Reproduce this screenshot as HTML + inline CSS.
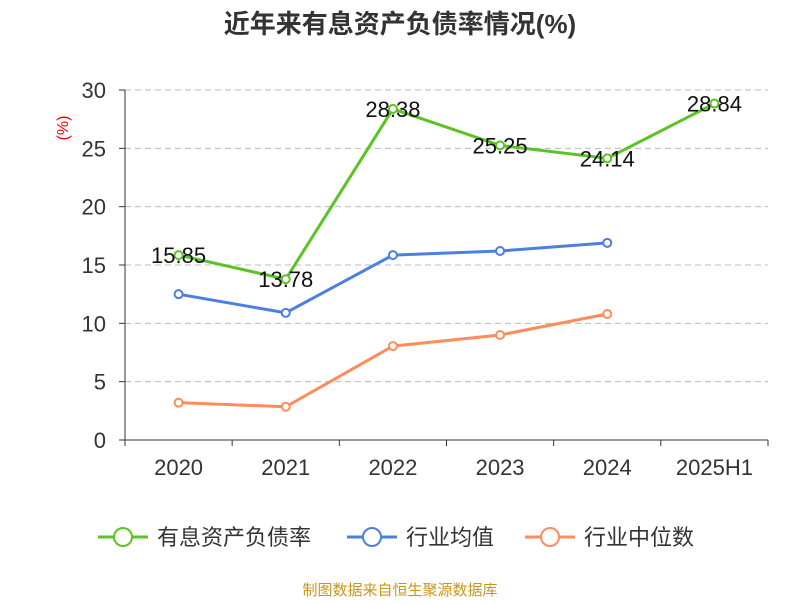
<!DOCTYPE html>
<html><head><meta charset="utf-8"><style>
body{margin:0;background:#fff;width:800px;height:600px;overflow:hidden}
svg{font-family:"Liberation Sans","Noto Sans CJK SC",sans-serif}
</style></head><body>
<svg id="chart" width="800" height="600">
<text x="400" y="33" text-anchor="middle" font-size="26" font-weight="bold" fill="#333">近年来有息资产负债率情况(%)</text>
<text x="68" y="128" transform="rotate(-90 68 128)" text-anchor="middle" font-size="16" fill="#e00">(%)</text>
<g id="grid"></g><g id="axes"></g><g id="series"></g>
<g>
<g><line x1="98" y1="537" x2="148" y2="537" stroke="#5bc424" stroke-width="3"/><circle cx="123" cy="537" r="9" fill="#fff" stroke="#5bc424" stroke-width="2"/><text x="157" y="545" font-size="22" fill="#333">有息资产负债率</text></g>
<g><line x1="347" y1="537" x2="397" y2="537" stroke="#4b7fe0" stroke-width="3"/><circle cx="372" cy="537" r="9" fill="#fff" stroke="#4b7fe0" stroke-width="2"/><text x="406" y="545" font-size="22" fill="#333">行业均值</text></g>
<g><line x1="525" y1="537" x2="575" y2="537" stroke="#ff8c5a" stroke-width="3"/><circle cx="550" cy="537" r="9" fill="#fff" stroke="#ff8c5a" stroke-width="2"/><text x="584" y="545" font-size="22" fill="#333">行业中位数</text></g>
</g>
<text x="400" y="595" text-anchor="middle" font-size="15" fill="#c8961e">制图数据来自恒生聚源数据库</text>
</svg>
<script>
const categories=["2020","2021","2022","2023","2024","2025H1"];
const debtRatio=[15.85,13.78,28.38,25.25,24.14,28.84];
const industryAvg=[12.5,10.9,15.85,16.2,16.9];
const industryMedian=[3.2,2.85,8.05,9.0,10.8];
const yTicks=[0,5,10,15,20,25,30];
const NS="http://www.w3.org/2000/svg";
const x0=125,x1=768,yBase=440,yTop=90,yMax=30;
const band=(x1-x0)/categories.length;
const xs=i=>x0+band*(i+0.5);
const ys=v=>yBase-(v/yMax)*(yBase-yTop);
function mk(tag,attrs,parent){const e=document.createElementNS(NS,tag);for(const k in attrs)e.setAttribute(k,attrs[k]);parent.appendChild(e);return e;}
const grid=document.getElementById('grid'),axes=document.getElementById('axes'),ser=document.getElementById('series');
yTicks.forEach(t=>{
 if(t>0){const g=mk('line',{x1:x0,x2:x1,y1:ys(t),y2:ys(t),stroke:'#bbb','stroke-dasharray':'6,4'},grid);
 
 }
 const tl=mk('text',{x:x0-19,y:ys(t)+8,'text-anchor':'end','font-size':22,fill:'#333'},axes);tl.textContent=t;
 
 
 mk('line',{x1:x0-6,x2:x0,y1:ys(t),y2:ys(t),stroke:'#333'},axes);
});
const ya=mk('line',{x1:x0,x2:x0,y1:yTop,y2:yBase,stroke:'#333'},axes);


const xa=mk('line',{x1:x0,x2:x1,y1:yBase,y2:yBase,stroke:'#333'},axes);


for(let i=0;i<=categories.length;i++)mk('line',{x1:x0+band*i,x2:x0+band*i,y1:yBase,y2:yBase+6,stroke:'#333'},axes);
categories.forEach((c,i)=>{const t=mk('text',{x:xs(i),y:yBase+35,'text-anchor':'middle','font-size':22,fill:'#333'},axes);t.textContent=c;
 
 });
function draw(vals,color,name,labels){
 const p=mk('polyline',{points:vals.map((v,i)=>xs(i)+','+ys(v)).join(' '),fill:'none',stroke:color,'stroke-width':3},ser);
 
 
 vals.forEach((v,i)=>{const c=mk('circle',{cx:xs(i),cy:ys(v),r:4,fill:'#fff',stroke:color,'stroke-width':2},ser);
  
  
  if(labels){const t=mk('text',{x:xs(i),y:ys(v)+8,'text-anchor':'middle','font-size':22,fill:'#111'},ser);t.textContent=v.toFixed(2);
   
   }
 });
}
draw(industryMedian,'#ff8c5a','industry-median',false);
draw(industryAvg,'#4b7fe0','industry-avg',false);
draw(debtRatio,'#5bc424','debt-ratio',true);
</script>
</body></html>
